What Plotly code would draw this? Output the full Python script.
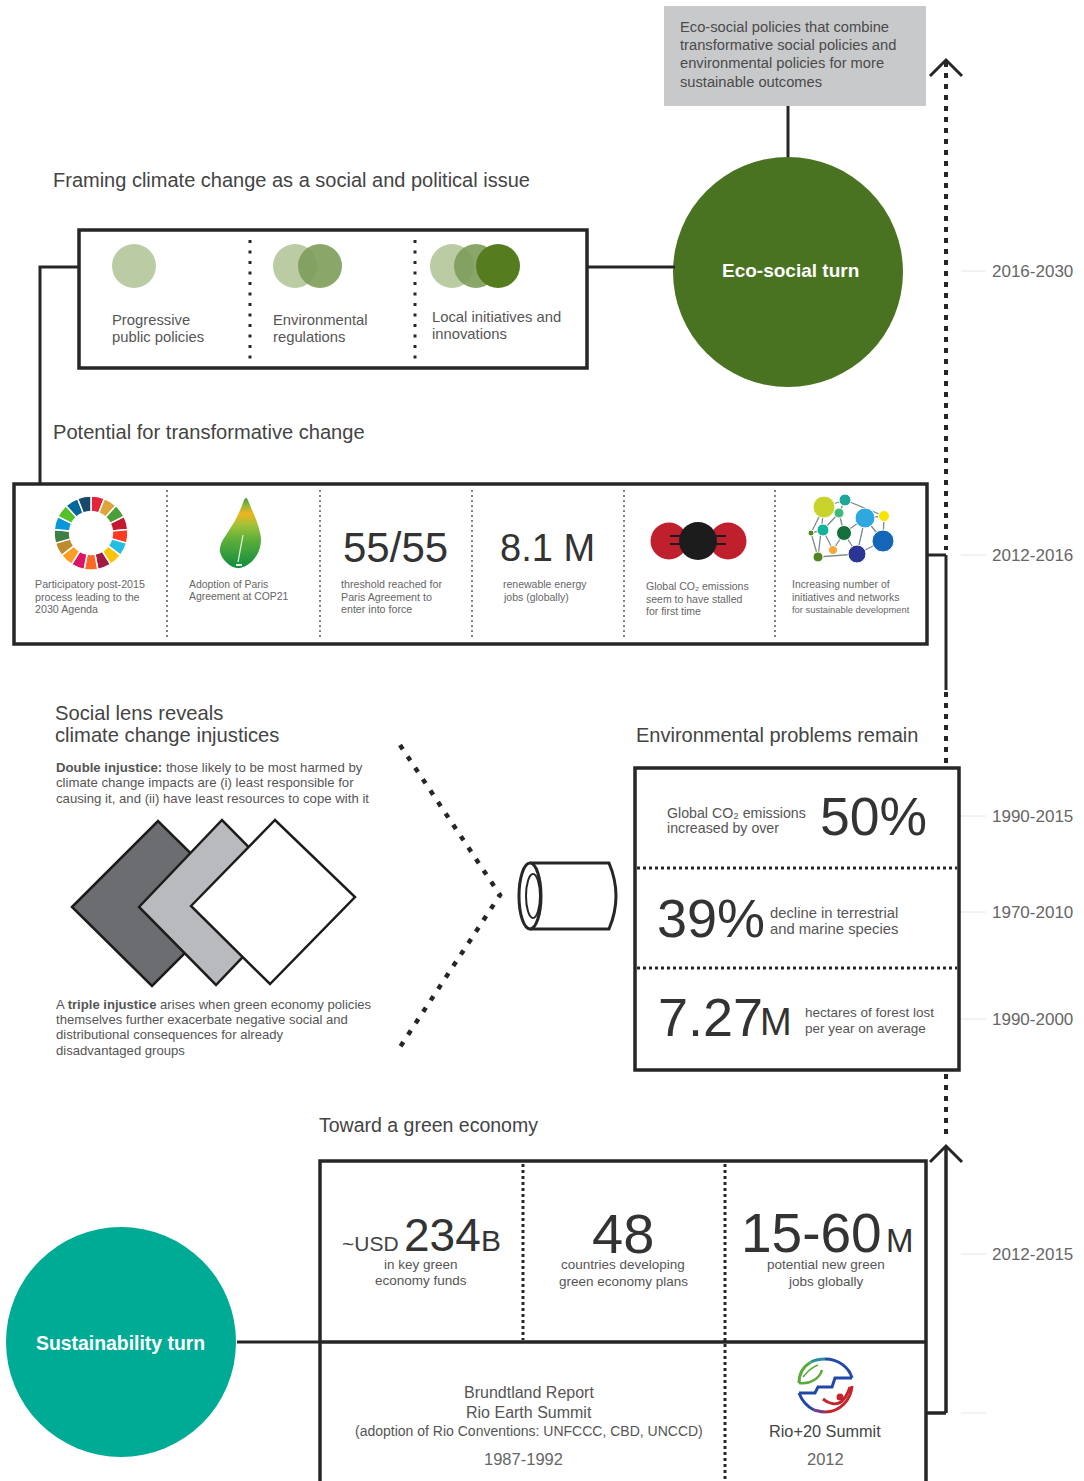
import plotly.graph_objects as go

W, H = 1084, 1481
FONT = "Liberation Sans"
DARK = "#262626"

# texts
periods = ["2016-2030", "2012-2016", "1990-2015", "1970-2010", "1990-2000", "2012-2015"]
eco_policy_text = ["Eco-social policies that combine", "transformative social policies and",
                   "environmental policies for more", "sustainable outcomes"]
framing_title = "Framing climate change as a social and political issue"
framing_items = [["Progressive", "public policies"], ["Environmental", "regulations"],
                 ["Local initiatives and", "innovations"]]
potential_title = "Potential for transformative change"
potential_items = [
    ["Participatory post-2015", "process leading to the", "2030 Agenda"],
    ["Adoption of Paris", "Agreement at COP21"],
    ["threshold reached for", "Paris Agreement to", "enter into force"],
    ["renewable energy", "jobs (globally)"],
    ["Global CO₂ emissions", "seem to have stalled", "for first time"],
    ["Increasing number of", "initiatives and networks", "for sustainable development"],
]
social_title = ["Social lens reveals", "climate change injustices"]
double_text = ["<b>Double injustice:</b> those likely to be most harmed by",
               "climate change impacts are (i) least responsible for",
               "causing it, and (ii) have least resources to cope with it"]
triple_text = ["A <b>triple injustice</b> arises when green economy policies",
               "themselves further exacerbate negative social and",
               "distributional consequences for already",
               "disadvantaged groups"]
env_title = "Environmental problems remain"
env_notes = [["Global CO₂ emissions", "increased by over"],
             ["decline in terrestrial", "and marine species"],
             ["hectares of forest lost", "per year on average"]]
green_title = "Toward a green economy"
green_notes = [["in key green", "economy funds"], ["countries developing", "green economy plans"],
               ["potential new green", "jobs globally"]]
brundtland = ["Brundtland Report", "Rio Earth Summit", "(adoption of Rio Conventions: UNFCCC, CBD, UNCCD)"]

# SDG wheel colours, clockwise from the top
sdg_colors = ["#e5243b", "#dda63a", "#4c9f38", "#c5192d", "#ff3a21", "#26bde2", "#fcc30b", "#a21942",
              "#fd6925", "#dd1367", "#fd9d24", "#bf8b2e", "#3f7e44", "#0a97d9", "#56c02b", "#00689d", "#19486a"]
sdg_values = [1] * 17

# network icon
node_x = [824, 845, 839, 865, 884, 811, 823, 844, 883, 833, 857, 818]
node_y = [507, 500, 513, 518, 516, 533, 530, 533, 541, 550, 554, 557]
node_size = [22, 12, 10, 20, 11, 6, 12, 15, 22, 9, 18, 10]
node_color = ["#c8d42c", "#1fa89a", "#3dba78", "#2fa8e0", "#f7e500", "#4f8a1f", "#12b39a", "#14703a",
              "#1467b8", "#f7a738", "#2a3594", "#50841f"]
edges = [(0, 1), (1, 4), (1, 2), (2, 0), (2, 6), (2, 7), (3, 4), (3, 7), (3, 8), (4, 8), (5, 0), (5, 6),
         (5, 11), (6, 9), (7, 9), (7, 10), (3, 10), (8, 10), (11, 10), (11, 0)]

# leaf outline
leaf_x = [246, 241, 237, 233, 226, 221, 220, 225, 233, 240, 250, 258, 261, 258, 252, 246]
leaf_y = [498, 508, 517, 524, 535, 544, 552, 561, 567, 568, 563, 553, 540, 525, 510, 498]

shapes = []
annotations = []


def line(x0, y0, x1, y1, width=3, color=DARK, dash="solid"):
    shapes.append(dict(type="line", xref="x", yref="y", x0=x0, y0=y0, x1=x1, y1=y1,
                       line=dict(color=color, width=width, dash=dash)))


def rect(x0, y0, x1, y1, width=3.5, fill=None, color=DARK):
    shapes.append(dict(type="rect", xref="x", yref="y", x0=x0, y0=y0, x1=x1, y1=y1,
                       line=dict(color=color, width=width), fillcolor=fill))


def circle(cx, cy, rx, fill, ry=None, width=0, color=DARK, opacity=1):
    ry = rx if ry is None else ry
    shapes.append(dict(type="circle", xref="x", yref="y", x0=cx - rx, y0=cy - ry, x1=cx + rx, y1=cy + ry,
                       fillcolor=fill, opacity=opacity, line=dict(color=color, width=width)))


def path(d, width=3, color=DARK, fill=None):
    shapes.append(dict(type="path", xref="x", yref="y", path=d, fillcolor=fill,
                       line=dict(color=color, width=width)))


def text(x, y, s, size=14, color="#555555", anchor="left"):
    # annotations sit about 1px right of the given x
    x = x - 1 if anchor == "left" else x
    annotations.append(dict(x=x, y=y, xref="x", yref="y", text=s, showarrow=False, xanchor=anchor,
                            yanchor="middle", align=anchor, borderpad=0,
                            font=dict(family=FONT, size=size, color=color)))


def lines(x, ys, rows, size=14, color="#555555", anchor="left"):
    for y, row in zip(ys, rows):
        text(x, y, row, size, color, anchor)


# backbone on the right
DOT = "5px,6px"
line(946, 62, 946, 550, 4, DARK, DOT)
line(946, 555, 946, 690, 3)
line(946, 692, 946, 766, 4, DARK, DOT)
line(946, 1074, 946, 1140, 4, DARK, DOT)
line(946, 1146, 946, 1413, 3.5)
line(926, 1413, 946, 1413, 3.5)
line(927, 555, 946, 555, 3)
path("M 930,76 L 946,60 L 962,76", 3)
path("M 930,1162 L 946,1146 L 962,1162", 3)

# period ticks
for y in [271, 555, 816, 912, 1019, 1254, 1413]:
    line(961, y, 986, y, 1, "#e6e6e6")
for y, p in zip([271, 555, 816, 912, 1019, 1254], periods):
    text(992, y, p, 17, "#666666")

# eco-social turn
rect(664, 6, 926, 106, 0, "#c8c9cb", "#c8c9cb")
lines(680, [27, 45, 63, 82], eco_policy_text, 14.7, "#4a4a4a")
line(788, 106, 788, 160, 3)
circle(788, 272, 115, "#4a7321")
text(790, 270.5, "<b>Eco-social turn</b>", 19, "white", "center")

# framing box
text(53, 180, framing_title, 20, "#444444")
line(587, 267, 675, 267, 3)
path("M 79,267 L 40,267 L 40,484", 3)
rect(79, 230, 587, 368)
for x in [250, 415]:
    line(x, 240, x, 360, 3, DARK, "3px,7.5px")
circle(134, 266, 22, "#bbcba3")
circle(295, 266, 22, "#bbcba3")
circle(320, 266, 22, "#7d9c59", opacity=0.9)
circle(452, 266, 22, "#bbcba3")
circle(476, 266, 22, "#7d9c59", opacity=0.9)
circle(498, 266, 22, "#557d1f")
lines(112, [320, 337], framing_items[0], 14.8)
lines(273, [320, 337], framing_items[1], 14.8)
lines(432, [317, 334], framing_items[2], 14.8)

# potential box
text(53, 432, potential_title, 20.1, "#444444")
rect(14, 484, 927, 644)
for x in [167, 320, 472, 624, 775]:
    line(x, 490, x, 640, 1.5, "#555555", "2px,3px")
lines(35, [584, 596.5, 609], potential_items[0], 10.7, "#666666")
lines(189, [584, 596.5], potential_items[1], 10.4, "#666666")
lines(341, [584, 596.5, 609], potential_items[2], 10.7, "#666666")
lines(503, [584, 596.5], potential_items[3], 10.5, "#666666")
lines(646, [586, 598.5, 611], potential_items[4], 10.5, "#666666")
lines(792, [584, 597], potential_items[5][:2], 10.4, "#666666")
text(792, 609.5, potential_items[5][2], 9.4, "#666666")
text(343, 547, "55/55", 42, "#333333")
text(500, 548, "8.1 M", 38, "#333333")

# Eiffel tower on the leaf
line(243, 535, 238, 562, 1.3, "#e4f0dc")
line(236, 565, 242, 565, 2, "#e4f0dc")

# CO2 bonds
for y in [536, 544]:
    line(670, y, 726, y, 2, "#1c1c1c")

# injustices
lines(55, [713, 735], social_title, 20.2, "#444444")
lines(56, [767.5, 782.5, 798.5], double_text, 13.2)
lines(56, [1004.5, 1019.5, 1034.5, 1050.5], triple_text, 13.1)
path("M 72,907 L 158,821 L 238,900 L 152,986 Z", 2.5, "#1c1c1c", "#6c6d70")
path("M 139,907 L 222,820 L 299,898 L 216,985 Z", 2.5, "#1c1c1c", "#b9babd")
path("M 191,906 L 275,820 L 355,897 L 270,984 Z", 2.5, "#1c1c1c", "white")
shapes.append(dict(type="path", xref="x", yref="y", path="M 400,745 L 500,895 L 400,1047",
                   line=dict(color=DARK, width=4.5, dash="5px,8.7px")))

# cylinder
path("M 530,863 L 609,863 Q 623,896 609,929 L 530,929", 3)
circle(530, 896, 11, "white", 33, 3)
circle(533, 896, 7, "white", 22, 2)

# environmental problems
text(636, 735, env_title, 20, "#444444")
rect(635, 768, 959, 1070)
for y in [868, 968]:
    line(637, y, 957, y, 3, DARK, "3px,3px")
lines(667, [813, 828], env_notes[0], 14.2)
text(820, 816, "50%", 53.5, "#333333")
text(657, 918, "39%", 54, "#333333")
lines(770, [913, 929], env_notes[1], 14.8)
text(658, 1017, "7.27", 54, "#333333")
text(760, 1022, "M", 38, "#333333")
lines(805, [1012, 1028], env_notes[2], 13.5)

# green economy
text(319, 1125, green_title, 19.5, "#444444")
line(237, 1342, 320, 1342, 3)
circle(121, 1342, 115, "#00ab96")
text(120, 1342.5, "<b>Sustainability turn</b>", 19.4, "white", "center")
path("M 320,1482 L 320,1161 L 926,1161 L 926,1482", 3.5)
line(320, 1342, 926, 1342, 3.5)
line(523, 1164, 523, 1340, 3, DARK, "3px,3px")
line(725, 1164, 725, 1481, 3, DARK, "3px,3px")
text(342, 1243, "~USD", 21, "#444444")
text(404, 1235, "234", 46, "#333333")
text(481, 1240, "B", 30, "#333333")
lines(421, [1264, 1280], green_notes[0], 13.5, anchor="center")
text(623, 1233, "48", 56, "#333333", "center")
lines(623, [1264, 1281], green_notes[1], 13.5, anchor="center")
text(741, 1233, "15-60", 55, "#333333")
text(886, 1240, "M", 33, "#333333")
lines(826, [1264, 1281], green_notes[2], 13.5, anchor="center")
lines(529, [1392, 1412], brundtland[:2], 16, anchor="center")
text(529, 1431, brundtland[2], 14, "#555555", "center")
text(523, 1459, "1987-1992", 16.5, "#666666", "center")
text(825, 1431, "Rio+20 Summit", 16.3, "#444444", "center")
text(825, 1459, "2012", 16.5, "#666666", "center")

# Rio+20 logo
path("M 799,1383 C 799,1373 804,1366 811,1362", 3, "#5bab3c")
path("M 811,1362 C 815,1360 820,1359 825,1359", 3, "#2a8f9a")
path("M 825,1359 C 838,1359 849,1367 852,1378", 3, "#2147a8")
path("M 799,1383 C 810,1385 820,1378 822,1370", 2.5, "#5bab3c")
path("M 803,1377 C 807,1372 812,1367 818,1365", 1.5, "#5bab3c")
path("M 852,1378 L 835,1378 L 832,1387 L 818,1387 L 815,1393 L 799,1393", 3, "#2147a8")
path("M 799,1393 C 802,1401 808,1407 814,1410", 3, "#2147a8")
path("M 814,1410 C 818,1411 821,1412 825,1412", 3, "#7a3a8a")
path("M 825,1412 C 840,1412 851,1400 852,1386", 3, "#c4242b")
path("M 823,1399 C 829,1404 836,1405 841,1402 C 846,1398 848,1393 850,1387", 3, "#c4242b")
circle(840, 1397, 3.5, "#c4242b")

fig = go.Figure()

fig.add_trace(go.Pie(values=sdg_values, marker=dict(colors=sdg_colors, line=dict(color="white", width=1.5)),
                     hole=0.58, sort=False, direction="clockwise", rotation=0, textinfo="none",
                     hoverinfo="skip", showlegend=False,
                     domain=dict(x=[(91 - 37) / W, (91 + 37) / W], y=[1 - (533 + 37) / H, 1 - (533 - 37) / H])))

fig.add_trace(go.Scatter(x=leaf_x, y=leaf_y, mode="lines", fill="toself", line=dict(width=0, shape="spline"),
                         fillgradient=dict(type="vertical",
                                           colorscale=[[0, "#108c40"], [0.4, "#5cae3a"], [0.62, "#a3c238"],
                                                       [0.78, "#f0b41e"], [0.9, "#8fb437"], [1, "#3f9d3c"]]),
                         hoverinfo="skip", showlegend=False))

# CO2 molecule
fig.add_trace(go.Scatter(x=[669, 728], y=[541, 541], mode="markers", marker=dict(size=37, color="#c01f2e"),
                         hoverinfo="skip", showlegend=False))
fig.add_trace(go.Scatter(x=[698], y=[541], mode="markers", marker=dict(size=38, color="#1c1c1c"),
                         hoverinfo="skip", showlegend=False))

# network
for a, b in edges:
    fig.add_trace(go.Scatter(x=[node_x[a], node_x[b]], y=[node_y[a], node_y[b]], mode="lines",
                             line=dict(color="#7f8c8c", width=1.3), hoverinfo="skip", showlegend=False))
fig.add_trace(go.Scatter(x=node_x, y=node_y, mode="markers",
                         marker=dict(size=node_size, color=node_color, opacity=1),
                         hoverinfo="skip", showlegend=False))

fig.update_layout(width=W, height=H, margin=dict(l=0, r=0, t=0, b=0), paper_bgcolor="white", plot_bgcolor="white",
                  xaxis=dict(range=[0, W], visible=False, fixedrange=True),
                  yaxis=dict(range=[H, 0], visible=False, fixedrange=True),
                  shapes=shapes, annotations=annotations, showlegend=False)

fig.write_html("out.html", config=dict(displayModeBar=False),
               post_script="document.body.style.margin='0';document.body.style.overflow='hidden';")
